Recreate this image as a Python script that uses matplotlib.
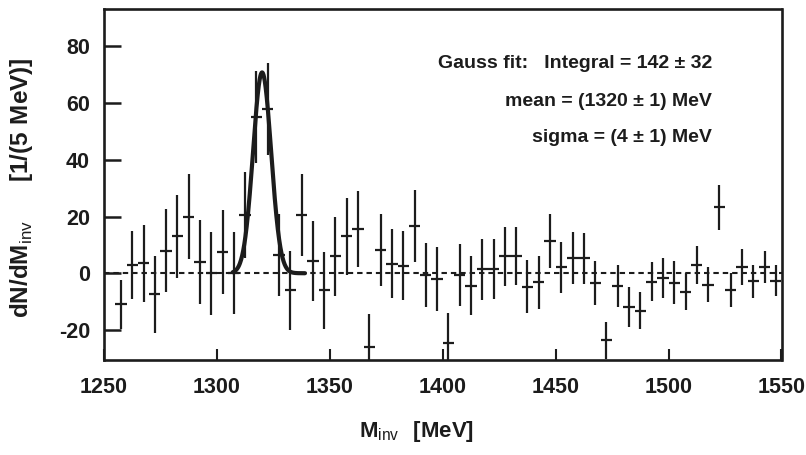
import numpy as np
import matplotlib
matplotlib.use("Agg")
import matplotlib.pyplot as plt
from matplotlib import font_manager

# Pick a narrow bold sans if available
names = {f.name for f in font_manager.fontManager.ttflist}
FONT = "Liberation Sans Narrow" if "Liberation Sans Narrow" in names else "Liberation Sans"
plt.rcParams["font.family"] = [FONT, "DejaVu Sans"]
plt.rcParams["mathtext.fontset"] = "custom"
plt.rcParams["mathtext.rm"] = FONT
plt.rcParams["mathtext.bf"] = FONT + ":bold"

INK = "#1c1c1c"

# Invariant-mass spectrum, 5 MeV bins
mass = [1257.5, 1262.5, 1267.5, 1272.5, 1277.5, 1282.5, 1287.5, 1292.5, 1297.5, 1302.5,
        1307.5, 1312.5, 1317.5, 1322.5, 1327.5, 1332.5, 1337.5, 1342.5, 1347.5, 1352.5,
        1357.5, 1362.5, 1367.5, 1372.5, 1377.5, 1382.5, 1387.5, 1392.5, 1397.5, 1402.5,
        1407.5, 1412.5, 1417.5, 1422.5, 1427.5, 1432.5, 1437.5, 1442.5, 1447.5, 1452.5,
        1457.5, 1462.5, 1467.5, 1472.5, 1477.5, 1482.5, 1487.5, 1492.5, 1497.5, 1502.5,
        1507.5, 1512.5, 1517.5, 1522.5, 1527.5, 1532.5, 1537.5, 1542.5, 1547.5]
counts = [-11, 3, 3.5, -7.5, 8, 13, 20, 4, 0, 7.4,
          0, 20.5, 55, 58, 6.5, -6, 20.5, 4.3, -6, 6,
          13, 15.6, -26, 8.2, 3.3, 2.7, 16.7, -0.6, -2, -24.6,
          -0.6, -4.5, 1.4, 1.5, 5.9, 6.2, -4.7, -3.2, 11.4, 2.1,
          5.3, 5.3, -3.5, -23.7, -4.5, -12, -13.2, -3, -1.8, -3.3,
          -6.5, 2.9, -4.1, 23.2, -5.9, 2.1, -2.9, 2.1, -2.6]
errors = [8.7, 12, 13.5, 13.5, 14.5, 14.7, 15, 14.7, 14.6, 14.8,
          14.5, 15.2, 16.2, 16.2, 14.5, 14, 14.6, 14, 13.5, 14,
          13.5, 13.4, 11.7, 12.6, 12.2, 12.3, 12.7, 11.4, 11.3, 10.5,
          11, 10.4, 10.7, 10.5, 10.4, 10.2, 9.4, 9.3, 9.5, 9,
          9.2, 9, 7.8, 6.5, 7.5, 7, 6.6, 6.8, 7, 7.5,
          6.6, 6.6, 6.2, 8, 5.9, 6.4, 5.8, 5.6, 5.5]
bin_width = 5.0

# Gaussian fit parameters
fit_integral = 142
fit_integral_err = 32
fit_mean = 1320
fit_mean_err = 1
fit_sigma = 4
fit_sigma_err = 1
fit_range = (1307, 1339)

xticks = [1250, 1300, 1350, 1400, 1450, 1500, 1550]
yticks = [-20, 0, 20, 40, 60, 80]

W, H = 806, 455
fig = plt.figure(figsize=(W / 100, H / 100), dpi=100)
ax = fig.add_axes([104 / W, 1 - 360 / H, (781.5 - 104) / W, (360 - 9.5) / H])

ax.set_xlim(1250, 1550)
ax.set_ylim(-30.6, 93)

# zero line
ax.axhline(0, color=INK, lw=1.5, ls=(0, (2.6, 1.9)), zorder=1)

# data with errors
ax.errorbar(mass, counts, yerr=errors, xerr=bin_width / 2, fmt="none",
            ecolor=INK, elinewidth=1.6, capsize=0, zorder=3)

# Gaussian fit curve
xf = np.linspace(fit_range[0], fit_range[1], 400)
amp = fit_integral * bin_width / (fit_sigma * np.sqrt(2 * np.pi))
yf = amp * np.exp(-0.5 * ((xf - fit_mean) / fit_sigma) ** 2)
ax.plot(xf, yf, color=INK, lw=3.0, solid_capstyle="round", zorder=4)

# axes styling
for s in ax.spines.values():
    s.set_linewidth(1.9)
    s.set_color(INK)
ax.set_xticks(xticks)
ax.set_yticks(yticks)
ax.tick_params(axis="x", direction="in", length=8, width=1.5, pad=12,
               labelsize=15.5, colors=INK, top=False)
ax.tick_params(axis="y", direction="in", length=12, width=1.8, pad=10,
               labelsize=15.5, colors=INK, right=False)
ax.set_yticklabels([str(v) for v in yticks])
for lab in ax.get_xticklabels() + ax.get_yticklabels():
    lab.set_fontweight("bold")

# axis titles
fig.text(22 / W, 1 - 188 / H,
         r"$\mathbf{dN/dM}_{\mathrm{inv}}\ \ \ \ \ \mathbf{[1/(5\ MeV)]}$",
         rotation=90, ha="center", va="center", fontsize=17.5, color=INK)
fig.text(416 / W, 1 - 432 / H,
         r"$\mathbf{M}_{\mathrm{inv}}\ \ \mathbf{[MeV]}$",
         ha="center", va="center", fontsize=16, color=INK)

# fit annotation
tx = 712 / W
kw = dict(ha="right", va="center", fontsize=14, fontweight="bold", color=INK,
          transform=fig.transFigure)
fig.text(tx, 1 - 63 / H,
         f"Gauss fit:   Integral = {fit_integral} \u00b1 {fit_integral_err}", **kw)
fig.text(tx, 1 - 101 / H,
         f"mean = ({fit_mean} \u00b1 {fit_mean_err}) MeV", **kw)
fig.text(tx, 1 - 138 / H,
         f"sigma = ({fit_sigma} \u00b1 {fit_sigma_err}) MeV", **kw)

fig.savefig("out.png", dpi=100, facecolor="white")
